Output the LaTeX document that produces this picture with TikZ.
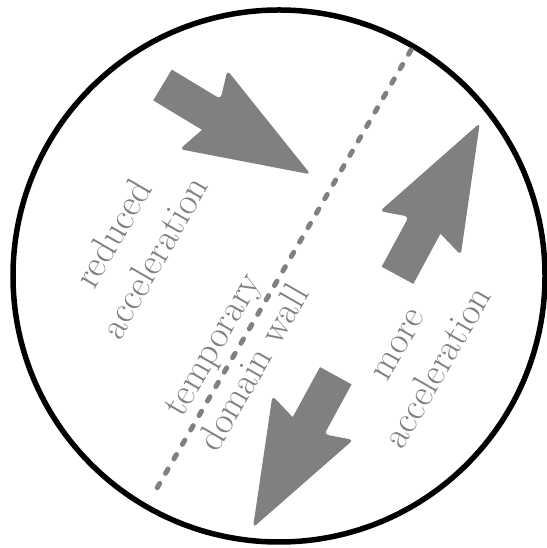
\documentclass[tikz,border=0pt]{standalone}
\usepackage{fontspec}
\usetikzlibrary{positioning}

\tikzset{
  pics/blockarrow/.style={code={
    \fill[gray] (0,-18) -- (57,-18) [rounded corners=4pt] -- (48,-46) -- (173,0)
      -- (48,46) -- (57,18) [sharp corners] -- (0,18) -- cycle;
  }}
}

\begin{document}
\begin{tikzpicture}[
    x=1pt, y=1pt,
    ring/.style={draw=black, line width=5.5pt},
    wall/.style={draw=gray, line width=5pt, line cap=round, dash pattern=on 5pt off 11.7pt},
    txt/.style={text=gray, align=center, rotate=60, inner sep=0pt,
      font=\fontsize{38}{47.5}\selectfont}
  ]
    \useasboundingbox (0,0) rectangle (546,548);
    \draw[ring] (279,272) circle (266);

    \coordinate (wtop) at (411,498);
    \coordinate (wbot) at (153,53);
    \draw[wall] (wtop) -- (wbot);

    \pic[rotate=-31.1] (a1) at (162.5,463) {blockarrow};
    \pic[rotate=61.6] (a2) at (397.5,272.7) {blockarrow};
    \pic[rotate=-118.6] (a3) at (335.8,172.3) {blockarrow};

    \node[txt] (reduced) at (133,303) {reduced\\acceleration};
    \node[txt] (domain) at (233,192) {temporary\\domain wall};
    \node[txt] (more) at (420,191) {more\\acceleration};
  \end{tikzpicture}
\end{document}
